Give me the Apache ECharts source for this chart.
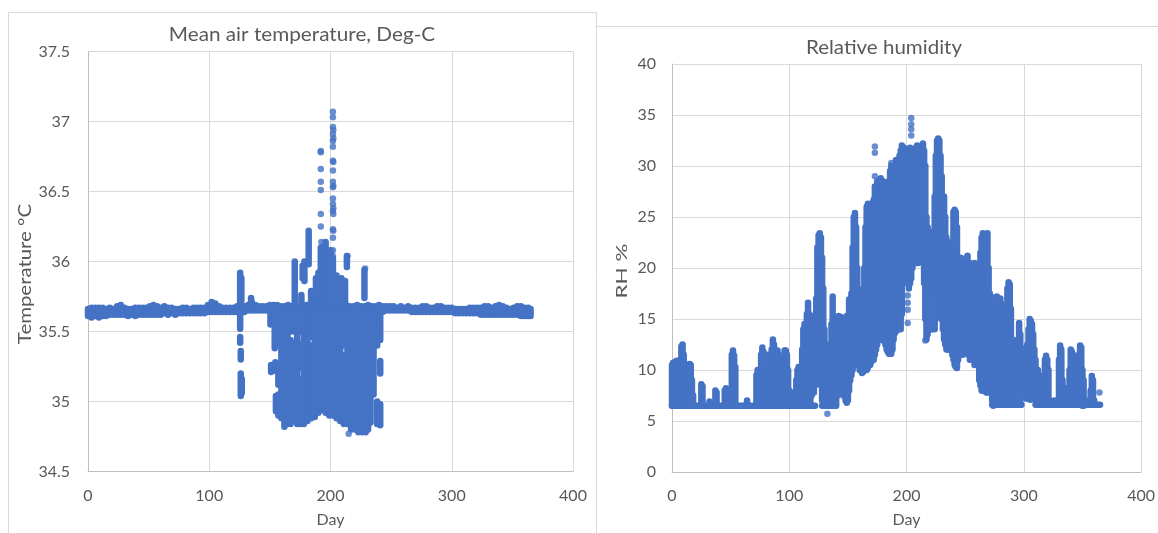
<!DOCTYPE html>
<html><head><meta charset="utf-8">
<script src="https://cdn.jsdelivr.net/npm/echarts@6/dist/echarts.min.js"></script>
<style>html,body{margin:0;padding:0;background:#fff;}#c{width:1158px;height:533px;}</style>
</head><body><div id="c"></div>
<script>
// ---------- DATA ----------
const dayTicks = [0, 100, 200, 300, 400];
const tempTicks = [34.5, 35, 35.5, 36, 36.5, 37, 37.5];
const rhTicks = [0, 5, 10, 15, 20, 25, 30, 35, 40];

// Temperature: dense baseline band, [day, low, high]
const tempBand = [
[0,35.61,35.66],[3,35.60,35.67],[6,35.61,35.67],[9,35.60,35.67],[12,35.61,35.67],[15,35.61,35.66],[18,35.62,35.67],[21,35.62,35.66],[24,35.62,35.68],[27,35.62,35.69],[30,35.62,35.67],[33,35.61,35.66],[36,35.62,35.66],[39,35.61,35.67],[42,35.62,35.67],[45,35.62,35.67],[48,35.62,35.67],[51,35.62,35.68],[54,35.62,35.69],[57,35.62,35.68],[60,35.62,35.67],[63,35.63,35.68],[66,35.62,35.67],[69,35.63,35.67],[72,35.62,35.66],[75,35.63,35.66],[78,35.63,35.67],[81,35.63,35.67],[84,35.63,35.66],[87,35.63,35.67],[90,35.63,35.67],[93,35.63,35.67],[96,35.63,35.67],[99,35.64,35.69],[102,35.64,35.71],[105,35.64,35.70],[108,35.64,35.68],[111,35.64,35.67],[114,35.64,35.67],[117,35.64,35.67],[120,35.64,35.67],[123,35.64,35.68],[126,35.64,35.68],[129,35.64,35.68],[132,35.65,35.69],[135,35.65,35.71],[138,35.65,35.69],[141,35.65,35.68],[144,35.65,35.68],[147,35.65,35.68],[150,35.65,35.69],[153,35.64,35.69],[156,35.64,35.69],[159,35.64,35.68],[162,35.64,35.68],[165,35.64,35.69],[168,35.64,35.68],[171,35.64,35.69],[174,35.64,35.68],[177,35.64,35.68],[180,35.64,35.69],[183,35.64,35.68],[186,35.64,35.69],[189,35.64,35.69],[192,35.64,35.69],[195,35.64,35.68],[198,35.64,35.69],[201,35.64,35.69],[204,35.64,35.68],[207,35.64,35.69],[210,35.64,35.68],[213,35.64,35.69],[216,35.64,35.68],[219,35.64,35.68],[222,35.64,35.69],[225,35.64,35.68],[228,35.64,35.68],[231,35.64,35.69],[234,35.64,35.68],[237,35.64,35.68],[240,35.64,35.69],[243,35.64,35.68],[246,35.65,35.68],[249,35.65,35.68],[252,35.65,35.68],[255,35.65,35.67],[258,35.65,35.68],[261,35.65,35.67],[264,35.65,35.68],[267,35.64,35.67],[270,35.64,35.67],[273,35.64,35.67],[276,35.64,35.68],[279,35.64,35.68],[282,35.64,35.67],[285,35.64,35.67],[288,35.64,35.68],[291,35.64,35.68],[294,35.64,35.67],[297,35.64,35.67],[300,35.64,35.67],[303,35.63,35.66],[306,35.63,35.66],[309,35.63,35.66],[312,35.63,35.66],[315,35.63,35.67],[318,35.63,35.67],[321,35.63,35.67],[324,35.62,35.67],[327,35.62,35.68],[330,35.62,35.68],[333,35.62,35.67],[336,35.62,35.68],[339,35.62,35.69],[342,35.62,35.68],[345,35.62,35.67],[348,35.62,35.66],[351,35.62,35.67],[354,35.62,35.68],[357,35.61,35.68],[360,35.61,35.67],[363,35.61,35.67],[365,35.61,35.66]
];

// Temperature: scattered columns away from the band, [day, low, high]
const tempCloud = [
[125.5,35.70,35.92],[126.5,35.72,35.88],[125.5,35.52,35.62],[125.5,35.42,35.46],[126,35.30,35.36],[126,35.04,35.20],[126.8,35.06,35.16],
[134.5,35.69,35.74],
[150.5,35.55,35.64],[151,35.21,35.26],
[154,35.38,35.64],[154.5,35.22,35.28],[155,34.93,35.04],
[157,35.42,35.62],[157,35.12,35.26],[157,34.90,35.05],
[159.5,35.28,35.62],[159.5,34.88,35.20],
[162,34.82,35.62],
[164.5,34.84,35.62],
[167,35.50,35.62],[167,34.84,35.44],
[170,35.50,35.62],[170,34.86,35.42],
[172.5,34.84,35.62],
[175,35.50,35.62],[175,35.24,35.41],[175,34.84,35.16],
[178,34.84,35.62],
[181,34.86,35.62],
[184,35.46,35.62],[184,34.88,35.40],
[187,34.89,35.62],[190,34.92,35.62],[193,34.94,35.62],[196,34.92,35.62],[199,34.90,35.62],[202,34.90,35.62],[205,34.88,35.62],
[208,34.86,35.62],
[211,35.40,35.62],[211,34.84,35.33],
[214,34.84,35.62],
[217,34.80,35.62],
[220,34.80,35.62],[223,34.78,35.62],[226,34.78,35.62],[229,34.78,35.62],[231,34.80,35.62],[233,34.85,35.62],[235.5,35.05,35.62],
[238.5,35.40,35.62],[238.5,34.84,35.00],
[241,35.44,35.62],[241,35.20,35.29],[241,34.83,34.98],
[170.5,35.70,36.00],[176,35.70,35.76],[177,35.88,35.97],[178.5,35.86,36.00],[182,35.98,36.22],[184,35.70,35.79],[188,35.70,35.88],
[190,35.70,35.92],[192,35.70,36.10],[194,35.70,36.00],[196,35.70,36.14],[198,35.70,36.05],[200,35.70,36.08],[202,35.70,36.02],
[205,35.70,35.90],[209,35.70,35.88],[212,35.70,35.86],[213.5,35.96,36.04],[228,35.74,35.94]
];

// Temperature: isolated points, [day, value]
const tempPoints = [
[202,37.07],[202,37.03],[202,36.96],[202.3,36.94],[202,36.91],[202.3,36.88],[202,36.86],[202,36.82],[202,36.72],[202.3,36.71],[202,36.65],[202,36.57],[202.3,36.54],[202,36.53],[202,36.45],[202,36.41],[202.3,36.38],[202,36.36],[202.3,36.34],[202,36.23],[202.3,36.22],[202,36.17],[202,36.08],[202,36.04],
[192,36.79],[192,36.78],[192,36.66],[192,36.57],[192,36.51],[192,36.34],[192,36.25],[192.5,36.14],[193,36.10],
[214,36.04],[228.5,35.95],[215,34.77]
];

// Relative humidity: floor line of repeated minimum readings, [startDay, endDay, value]
const rhFloor = [[0,122,6.5],[128,140,6.5],[273,298,6.6],[310,365,6.6]];

// Relative humidity: per-day spread, [day, low, high]
const rhColumns = [
[0,6.5,10.5],[1,6.5,10.7],[2,6.5,10.4],[3,6.5,10.8],[4,6.5,10.9],[5,6.5,10.6],[6,6.5,9.8],[7,6.5,11.0],[8,6.5,12.3],[9,6.5,12.5],[10,6.5,11.5],[11,6.5,9.3],[12,6.5,9.5],[13,6.5,8.5],[14,6.5,10.0],[15,6.5,10.6],[16,6.5,10.5],[17,6.5,9.0],[18,6.5,7.5],
[25,6.5,8.6],[26,6.5,8.4],[32,6.5,6.9],[37,6.5,8.0],[38,6.5,7.8],[45,6.5,8.0],[46,6.5,8.2],[51,6.5,11.5],[52,6.5,11.9],[53,6.5,11.4],[54,6.5,10.3],[64,6.5,7.0],
[72,6.5,9.5],[73,6.5,10.0],[74,6.5,9.0],[76,6.5,11.5],[77,6.5,12.2],[78,6.5,11.8],[79,6.5,10.0],[80,6.5,9.0],[81,6.5,11.0],[82,6.5,11.5],[83,6.5,9.8],[85,6.5,12.0],[86,6.5,13.0],[87,6.5,12.5],[88,6.5,10.5],[89,6.5,11.0],[90,6.5,11.9],[91,6.5,11.5],[92,6.5,10.8],[93,6.5,9.5],[95,6.5,11.0],[96,6.5,11.9],[97,6.5,11.9],[98,6.5,11.5],[99,6.5,10.0],[100,6.5,8.0],[102,6.5,7.8],[104,6.5,7.5],[106,6.5,9.0],[107,6.5,10.0],[108,6.5,10.3],[109,6.5,10.2],[110,6.5,9.0],
[111,6.5,12.0],[112,6.5,14.0],[113,6.5,14.5],[114,6.5,13.5],[115,6.5,15.5],[116,6.5,16.6],[117,6.5,15.5],[118,6.5,14.5],[119,7.5,15.3],[120,7.8,15.0],[121,7.8,14.0],[122,8.5,12.5],
[123,9.5,17.0],[124,10.0,22.0],[125,10.0,23.2],[126,9.5,23.4],[127,8.5,23.0],[128,7.0,21.0],[129,6.5,18.0],[130,6.5,14.0],[131,6.5,12.5],[132,6.5,11.5],[133,6.5,11.0],[134,6.5,11.2],[135,6.5,12.5],[136,6.5,14.5],[137,6.5,17.2],[138,6.5,15.0],[139,6.5,13.0],[140,6.7,14.5],
[141,7.5,15.0],[142,8.0,15.3],[143,8.5,15.0],[144,8.0,15.2],[145,8.5,14.5],[146,7.5,15.0],[147,8.0,14.0],[148,7.0,15.0],[149,6.8,15.3],[150,7.0,14.0],[151,8.0,16.9],[152,9.0,16.2],[153,9.5,17.5],[154,10.0,22.0],[155,10.4,25.0],[156,10.5,25.4],[157,11.0,24.0],[158,11.0,20.0],[159,10.5,17.0],[160,10.0,17.0],
[161,10.0,16.0],[162,9.7,17.0],[163,9.8,18.0],[164,10.0,20.0],[165,10.2,24.0],[166,10.0,26.0],[167,10.2,26.3],[168,10.5,26.0],[169,10.5,25.0],[170,10.8,25.5],[171,11.0,26.4],[172,11.0,26.7],[173,11.5,28.0],[174,12.0,27.0],[175,12.5,28.5],[176,13.0,28.0],[177,13.0,28.5],[178,13.2,28.8],[179,13.0,28.0],[180,12.9,28.5],
[181,13.0,28.3],[182,12.5,28.0],[183,12.0,27.5],[184,11.8,28.0],[185,11.6,28.5],[186,11.6,29.5],[187,11.6,30.0],[188,12.0,28.0],[189,13.0,28.5],[190,13.6,30.0],[191,13.8,30.6],[192,14.0,30.0],[193,14.5,30.5],[194,14.0,31.0],[195,14.0,31.5],[196,15.5,32.0],[197,19.0,31.5],[198,19.5,31.8],[199,19.5,31.5],[200,19.0,31.6],
[201,18.5,31.5],[202,18.0,31.6],[203,18.5,31.8],[204,19.0,31.5],[205,20.0,31.6],[206,20.5,31.5],[207,20.5,31.6],[208,20.5,31.8],[209,20.5,32.0],[210,20.5,31.8],[211,20.8,31.5],[212,21.0,31.6],[213,21.0,32.0],[214,20.5,32.2],[215,18.5,31.5],[216,15.0,30.0],[217,13.0,25.0],[218,13.5,24.0],[219,14.0,23.5],[220,14.5,23.5],
[221,14.0,23.3],[222,14.0,23.5],[223,14.5,23.6],[224,14.0,27.0],[225,15.0,31.0],[226,16.5,32.5],[227,17.0,32.7],[228,17.0,32.5],[229,16.5,31.0],[230,15.0,29.0],[231,14.0,27.0],[232,13.0,27.0],[233,12.5,25.0],[234,12.0,23.0],[235,12.0,22.0],[236,12.0,22.5],[237,12.0,22.0],[238,12.3,21.0],[239,11.5,22.0],[240,11.0,25.5],
[241,10.5,25.7],[242,10.3,25.5],[243,10.2,24.0],[244,11.0,21.0],[245,11.5,20.5],[246,11.8,21.0],[247,12.0,20.0],[248,11.5,19.5],[249,11.8,20.0],[250,12.0,20.5],[251,12.0,21.0],[252,11.8,21.2],[253,11.5,20.0],[254,11.0,20.5],[255,11.0,20.3],[256,11.2,19.5],[257,11.0,20.0],[258,10.5,20.5],[259,10.8,20.0],[260,11.0,20.0],
[261,10.5,19.0],[262,9.0,20.0],[263,8.5,21.5],[264,8.0,23.0],[265,8.0,23.4],[266,8.0,21.0],[267,8.0,20.0],[268,7.8,21.0],[269,7.8,23.4],[270,8.0,20.0],
[271,8.5,17.5],[272,8.0,17.2],[273,7.0,16.0],[274,6.5,17.0],[275,6.8,15.0],[276,7.5,16.5],[277,8.0,17.2],[278,6.6,16.0],[279,6.6,15.5],[280,6.6,17.0],[281,6.6,16.5],[282,6.6,15.0],[283,6.6,14.0],[284,6.6,15.5],[285,6.6,16.0],[286,6.6,18.0],[287,6.6,18.6],[288,6.6,18.4],[289,6.6,16.0],[290,6.6,13.0],
[291,6.6,11.5],[292,6.6,11.0],[293,6.6,11.4],[294,6.6,11.0],[295,6.6,13.0],[296,6.6,14.6],[297,6.6,13.5],[298,7.5,12.0],[299,8.3,12.1],[300,8.3,12.0],[301,8.0,11.0],[302,7.2,11.5],[303,7.2,12.5],[304,7.2,14.0],[305,7.1,15.0],[306,7.1,14.8],[307,7.2,14.5],[308,7.2,13.5],[309,7.5,12.0],[310,7.0,11.0],
[311,6.6,9.5],[312,6.6,10.0],[313,6.6,9.5],[314,6.6,9.0],[315,6.6,8.0],[316,6.6,7.5],[317,6.6,9.0],[318,6.6,11.0],[319,6.6,11.4],[320,6.6,11.0],[321,6.6,10.0],[322,6.6,7.0],[324,6.6,6.8],[326,6.6,7.0],[330,6.6,11.0],[331,6.8,12.4],[332,6.8,12.0],[333,6.6,9.0],[335,6.6,8.0],[336,6.6,8.2],
[337,6.6,7.5],[339,6.6,10.0],[340,6.6,12.0],[341,6.6,11.8],[342,6.6,11.5],[343,6.6,10.0],[345,6.6,7.0],[347,6.6,11.5],[348,6.6,12.4],[349,6.6,12.2],[350,6.5,10.0],[351,6.5,9.0],[353,6.6,7.0],[357,6.6,8.0],[358,6.6,9.4],[359,6.6,9.0],[360,6.6,7.0]
];

// Relative humidity: isolated points, [day, value]
const rhPoints = [
[173,31.9],[173,31.3],[173,29.0],[204,34.7],[204,34.1],[204,33.6],[204,33.0],[201,17.3],[201,16.6],[201,15.9],[201,14.6],[132.5,5.7],[364.5,7.8],[216,12.9],[187,30.3]
];

// ---------- RENDER ----------
const BLUE = '#4472C4';
const DOT = 6.5;
const GRID = '#d9d9d9';
const AXIS = '#bfbfbf';
const TXT = '#595959';
const FONT = 'Lato, "Open Sans", sans-serif';

function vSeg(params, api) {
  const a = api.coord([api.value(0), api.value(1)]);
  const b = api.coord([api.value(0), api.value(2)]);
  if (Math.abs(a[1] - b[1]) < 0.5) {
    return {type: 'circle', shape: {cx: a[0], cy: a[1], r: DOT / 2}, style: {fill: BLUE}};
  }
  return {type: 'line', shape: {x1: a[0], y1: a[1], x2: b[0], y2: b[1]},
    style: {stroke: BLUE, lineWidth: DOT, lineCap: 'round'}};
}
function hSeg(params, api) {
  const a = api.coord([api.value(0), api.value(2)]);
  const b = api.coord([api.value(1), api.value(2)]);
  return {type: 'line', shape: {x1: a[0], y1: a[1], x2: b[0], y2: b[1]},
    style: {stroke: BLUE, lineWidth: DOT, lineCap: 'round'}};
}

function xAxisCfg(idx) {
  return {
    type: 'value', gridIndex: idx, min: dayTicks[0], max: dayTicks[dayTicks.length - 1], interval: 100,
    axisLine: {show: true, lineStyle: {color: AXIS}}, axisTick: {show: false},
    splitLine: {show: true, lineStyle: {color: GRID, width: 1}},
    axisLabel: {color: TXT, fontSize: 16, fontFamily: FONT, margin: 16},
    name: 'Day', nameLocation: 'middle', nameGap: 40,
    nameTextStyle: {color: TXT, fontSize: 16, fontFamily: FONT}
  };
}
function yAxisCfg(idx, ticks, step, margin) {
  return {
    type: 'value', gridIndex: idx, min: ticks[0], max: ticks[ticks.length - 1], interval: step,
    axisLine: {show: true, onZero: false, lineStyle: {color: AXIS}}, axisTick: {show: false},
    splitLine: {lineStyle: {color: GRID}},
    axisLabel: {color: TXT, fontSize: 16, fontFamily: FONT, margin: margin}
  };
}

const chart = echarts.init(document.getElementById('c'), null, {renderer: 'canvas'});
chart.setOption({
  animation: false,
  backgroundColor: '#fff',
  grid: [
    {left: 88, top: 51.5, width: 485, height: 420},
    {left: 672, top: 64, width: 475, height: 409}
  ],
  xAxis: [xAxisCfg(0), xAxisCfg(1)],
  yAxis: [yAxisCfg(0, tempTicks, 0.5, 18), yAxisCfg(1, rhTicks, 5, 16)],
  graphic: [
    {type: 'polyline', silent: true, z: -10, shape: {points: [[8.5, 540], [8.5, 12.5], [596.5, 12.5], [596.5, 540]]},
     style: {stroke: GRID, fill: null, lineWidth: 1}},
    {type: 'polyline', silent: true, z: -10, shape: {points: [[596.5, 26.5], [1160, 26.5]]},
     style: {stroke: GRID, fill: null, lineWidth: 1}},
    {type: 'text', silent: true, x: 302, y: 35, scaleX: 1.09,
     style: {text: 'Mean air temperature, Deg-C', fill: TXT, font: '19px ' + FONT, align: 'center', verticalAlign: 'middle'}},
    {type: 'text', silent: true, x: 884, y: 48, scaleX: 1.08,
     style: {text: 'Relative humidity', fill: TXT, font: '19px ' + FONT, align: 'center', verticalAlign: 'middle'}},
    {type: 'text', silent: true, x: 26, y: 274, rotation: Math.PI / 2, scaleX: 1.2,
     style: {text: 'Temperature °C', fill: TXT, font: '17px ' + FONT, align: 'center', verticalAlign: 'middle'}},
    {type: 'text', silent: true, x: 622, y: 271, rotation: Math.PI / 2, scaleX: 1.4,
     style: {text: 'RH %', fill: TXT, font: '16px ' + FONT, align: 'center', verticalAlign: 'middle'}}
  ],
  series: [
    {type: 'custom', xAxisIndex: 0, yAxisIndex: 0, data: tempBand, renderItem: vSeg, encode: {x: 0, y: [1, 2]}},
    {type: 'custom', xAxisIndex: 0, yAxisIndex: 0, data: tempCloud, renderItem: vSeg, encode: {x: 0, y: [1, 2]}},
    {type: 'scatter', xAxisIndex: 0, yAxisIndex: 0, data: tempPoints, symbolSize: DOT, itemStyle: {color: BLUE}},
    {type: 'custom', xAxisIndex: 1, yAxisIndex: 1, data: rhFloor, renderItem: hSeg, encode: {x: [0, 1], y: 2}},
    {type: 'custom', xAxisIndex: 1, yAxisIndex: 1, data: rhColumns, renderItem: vSeg, encode: {x: 0, y: [1, 2]}},
    {type: 'scatter', xAxisIndex: 1, yAxisIndex: 1, data: rhPoints, symbolSize: DOT, itemStyle: {color: BLUE}}
  ]
});
</script></body></html>
